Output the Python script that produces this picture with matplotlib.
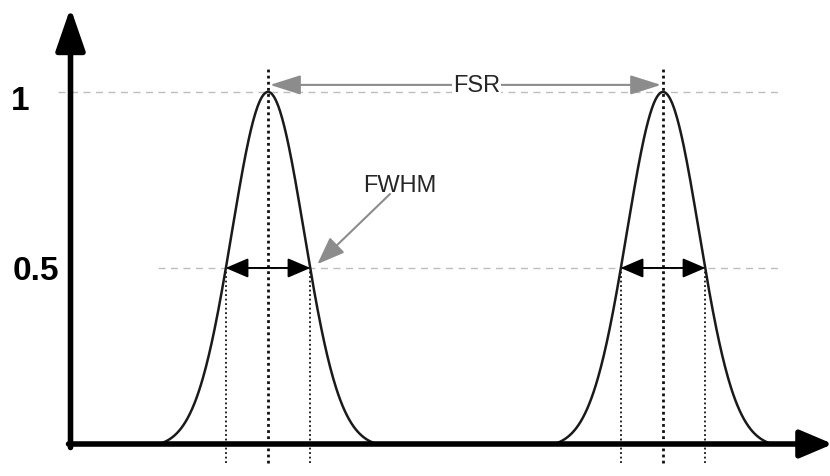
import numpy as np
import matplotlib
matplotlib.use("Agg")
import matplotlib.pyplot as plt

plt.rcParams['font.family'] = ['Liberation Sans', 'DejaVu Sans']

# Transmission peaks of the resonator (normalised intensity vs frequency)
peak_centers = [2.0, 6.0]
peak_fwhm = 0.86
peak_halfspan = 1.1           # where each drawn peak meets the baseline
level_labels = ["1", "0.5"]
levels = [1.0, 0.5]

sigma = peak_fwhm / (2 * np.sqrt(2 * np.log(2)))
g_end = np.exp(-peak_halfspan ** 2 / (2 * sigma ** 2))

fig = plt.figure(figsize=(8.3, 4.77), dpi=100)
ax = fig.add_axes([0, 0, 1, 1])
ax.set_xlim(-0.714, 7.691)
ax.set_ylim(-0.0909, 1.264)
ax.axis("off")

# reference levels (dashed gray)
ax.plot([-0.13, 7.18], [levels[0]] * 2, ls=(0, (5, 4)), color="#bdbdbd", lw=1.0, zorder=1)
ax.plot([0.89, 7.18], [levels[1]] * 2, ls=(0, (5, 4)), color="#bdbdbd", lw=1.0, zorder=1)

for c in peak_centers:
    x = np.linspace(c - peak_halfspan, c + peak_halfspan, 300)
    g = np.exp(-(x - c) ** 2 / (2 * sigma ** 2))
    y = (g - g_end) / (1 - g_end)
    ax.plot(x, y, color="#1a1a1a", lw=1.8, zorder=3)

    # dotted markers at centre and half-maximum points
    ax.plot([c, c], [-0.055, 1.075], ls=(0, (1, 1.2)), color="#111111", lw=2.0, zorder=2)
    for hx in (c - peak_fwhm / 2, c + peak_fwhm / 2):
        ax.plot([hx, hx], [-0.055, 0.5], ls=(0, (1, 1.5)), color="#111111", lw=1.3, zorder=2)

    # FWHM double arrow
    ax.annotate("", xy=(c - peak_fwhm / 2, 0.5), xytext=(c + peak_fwhm / 2, 0.5),
                arrowprops=dict(arrowstyle="<|-|>,head_length=14,head_width=6",
                                mutation_scale=1, lw=1.4, color="black",
                                shrinkA=0, shrinkB=0), zorder=4)

# FSR arrow
fsr_y = 1.02
ax.annotate("", xy=(peak_centers[0] + 0.02, fsr_y), xytext=(peak_centers[1] - 0.02, fsr_y),
            arrowprops=dict(arrowstyle="<|-|>,head_length=19,head_width=6",
                            mutation_scale=1, lw=1.5, color="#8c8c8c",
                            shrinkA=0, shrinkB=0), zorder=4)
ax.text(4.11, 1.003, "FSR", fontsize=17, color="#262626", ha="center", va="baseline",
        bbox=dict(boxstyle="square,pad=0.05", fc="white", ec="none"), zorder=5)

# FWHM pointer
ax.annotate("", xy=(2.50, 0.511), xytext=(3.235, 0.71),
            arrowprops=dict(arrowstyle="-|>,head_length=17,head_width=6.5",
                            mutation_scale=1, lw=1.5, color="#8c8c8c",
                            shrinkA=0, shrinkB=0), zorder=4)
ax.text(3.336, 0.719, "FWHM", fontsize=17, color="#262626", ha="center", va="baseline", zorder=5)

# axes with arrows
ax.annotate("", xy=(0, 1.239), xytext=(0, -0.01), annotation_clip=False,
            arrowprops=dict(arrowstyle="-|>,head_length=26,head_width=9",
                            mutation_scale=1, lw=4.0, color="black",
                            shrinkA=0, shrinkB=0), zorder=6)
ax.annotate("", xy=(7.72, 0), xytext=(-0.02, 0), annotation_clip=False,
            arrowprops=dict(arrowstyle="-|>,head_length=20,head_width=8.5",
                            mutation_scale=1, lw=4.0, color="black",
                            shrinkA=0, shrinkB=0), zorder=6)

# level labels
ax.text(-0.51, 0.952, level_labels[0], fontsize=24, fontweight="bold", ha="center", va="baseline")
ax.text(-0.35, 0.469, level_labels[1], fontsize=24, fontweight="bold", ha="center", va="baseline")

fig.savefig("out.png", dpi=100)
